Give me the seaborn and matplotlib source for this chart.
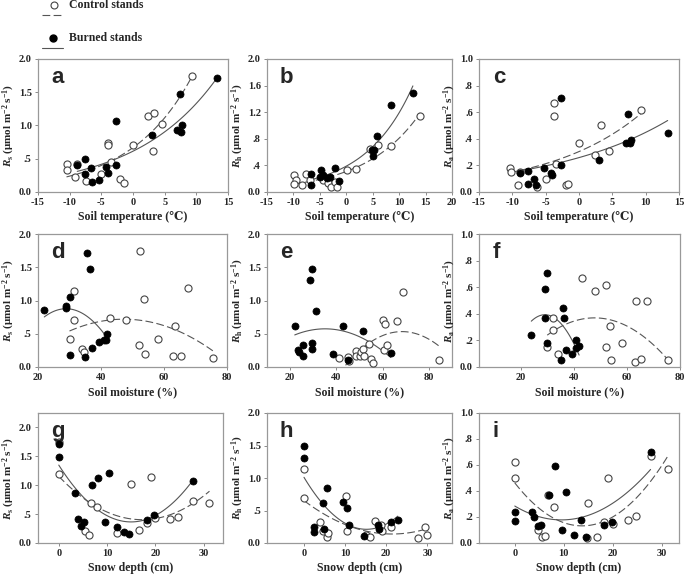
import matplotlib
matplotlib.use("Agg")
import matplotlib.pyplot as plt
import numpy as np
import seaborn as sns
from matplotlib.lines import Line2D
from matplotlib.ticker import FixedLocator, FuncFormatter

# soil temperature panels (a-c)
a_ctrl_x = [-10.5, -10.4, -9.2, -8.8, -7.5, -5.0, -4.0, -4.0, -3.5, -2.0, -1.5, 0.0, 2.4, 3.3, 3.2, 4.5, 9.3]
a_ctrl_y = [0.42, 0.33, 0.22, 0.42, 0.16, 0.27, 0.73, 0.70, 0.45, 0.19, 0.14, 0.70, 1.14, 1.19, 0.62, 1.03, 1.75]
a_burn_x = [-8.8, -7.6, -7.6, -6.7, -6.4, -5.3, -4.2, -4.0, -2.7, -2.7, 3.0, 7.0, 7.4, 7.6, 7.8, 13.3]
a_burn_y = [0.40, 0.49, 0.27, 0.36, 0.15, 0.18, 0.37, 0.29, 1.07, 0.40, 0.86, 0.93, 1.48, 0.90, 1.00, 1.72]

b_ctrl_x = [-9.8, -9.6, -9.9, -8.4, -7.6, -6.8, -4.5, -3.4, -2.9, -2.1, -1.7, 0.1, 1.9, 4.5, 6.0, 8.5, 14.0]
b_ctrl_y = [0.25, 0.18, 0.12, 0.10, 0.27, 0.18, 0.18, 0.13, 0.07, 0.15, 0.08, 0.33, 0.34, 0.65, 0.71, 0.69, 1.14]
b_burn_x = [-6.6, -6.7, -4.8, -4.9, -4.4, -3.7, -3.1, -2.1, -1.3, 4.8, 5.2, 5.1, 5.9, 8.4, 12.6]
b_burn_y = [0.27, 0.11, 0.33, 0.22, 0.26, 0.21, 0.23, 0.36, 0.16, 0.63, 0.63, 0.54, 0.84, 1.31, 1.49]

c_ctrl_x = [-10.4, -10.2, -9.2, -8.8, -6.3, -5.0, -3.8, -3.8, -3.5, -2.0, -1.6, 0.0, 2.4, 3.3, 4.5, 9.3]
c_ctrl_y = [0.18, 0.15, 0.05, 0.15, 0.04, 0.10, 0.67, 0.57, 0.21, 0.05, 0.06, 0.37, 0.28, 0.50, 0.31, 0.62]
c_burn_x = [-8.8, -7.6, -7.6, -6.7, -6.4, -5.3, -4.2, -4.0, -2.7, -2.7, 3.0, 7.0, 7.4, 7.6, 7.8, 13.3]
c_burn_y = [0.14, 0.16, 0.06, 0.10, 0.05, 0.18, 0.14, 0.13, 0.71, 0.20, 0.24, 0.37, 0.59, 0.37, 0.39, 0.44]

# soil moisture panels (d-f)
d_ctrl_x = [30.0, 31.5, 31.5, 34.0, 34.5, 43.0, 48.0, 52.0, 52.5, 53.5, 54.0, 58.0, 63.0, 63.5, 65.5, 67.5, 75.5]
d_ctrl_y = [0.42, 1.14, 0.70, 0.27, 0.22, 0.73, 0.70, 0.33, 1.75, 1.02, 0.19, 0.42, 0.16, 0.62, 0.16, 1.19, 0.14]
d_burn_x = [22.0, 29.0, 29.0, 30.0, 30.0, 35.0, 35.5, 36.5, 37.0, 39.5, 41.0, 41.5, 42.0]
d_burn_y = [0.86, 0.92, 0.89, 1.06, 0.18, 0.15, 1.72, 1.48, 0.29, 0.37, 0.41, 0.40, 0.49]

e_ctrl_x = [41.0, 45.0, 45.5, 48.5, 48.5, 50.0, 50.5, 51.5, 52.0, 54.0, 55.0, 56.0, 60.0, 60.5, 61.0, 62.0, 66.0, 69.0, 84.5]
e_ctrl_y = [0.13, 0.15, 0.09, 0.24, 0.17, 0.17, 0.22, 0.27, 0.17, 0.34, 0.12, 0.06, 0.71, 0.25, 0.64, 0.33, 0.69, 1.13, 0.10]
e_burn_x = [22.0, 23.5, 24.0, 25.5, 25.5, 28.5, 29.5, 29.5, 29.5, 31.0, 38.5, 43.0, 45.0, 51.5, 63.5]
e_burn_y = [0.62, 0.26, 0.22, 0.33, 0.16, 1.31, 1.48, 0.36, 0.27, 0.84, 0.20, 0.62, 0.11, 0.54, 0.21]

f_ctrl_x = [30.0, 32.0, 32.0, 34.0, 43.0, 48.0, 52.0, 52.0, 53.5, 54.0, 58.0, 63.0, 63.5, 65.5, 67.5, 75.5]
f_ctrl_y = [0.15, 0.37, 0.28, 0.10, 0.67, 0.57, 0.62, 0.15, 0.31, 0.05, 0.18, 0.04, 0.50, 0.06, 0.50, 0.05]
f_burn_x = [24.0, 29.0, 29.0, 30.0, 30.0, 35.0, 36.0, 36.5, 37.0, 39.5, 41.0, 41.0, 42.0]
f_burn_y = [0.24, 0.59, 0.37, 0.71, 0.18, 0.05, 0.44, 0.37, 0.13, 0.10, 0.20, 0.14, 0.16]

# snow depth panels (g-i)
g_ctrl_x = [0.0, 0.0, 5.5, 6.2, 6.7, 8.0, 12.0, 15.0, 16.7, 18.3, 19.0, 20.0, 23.0, 24.7, 27.7, 31.2]
g_ctrl_y = [1.75, 1.19, 0.20, 0.14, 0.70, 0.62, 0.17, 1.02, 0.22, 0.34, 1.14, 0.43, 0.42, 0.45, 0.73, 0.70]
g_burn_x = [0.0, 0.0, 3.3, 4.0, 4.5, 5.3, 6.8, 8.2, 9.6, 10.5, 12.0, 13.5, 14.5, 18.2, 19.8, 27.7]
g_burn_y = [1.72, 1.48, 0.86, 0.41, 0.29, 0.37, 1.00, 1.13, 0.37, 1.22, 0.28, 0.19, 0.16, 0.40, 0.49, 1.07]

h_ctrl_x = [0.0, 0.0, 3.8, 4.5, 5.5, 5.8, 10.2, 10.5, 15.0, 16.0, 17.2, 18.8, 19.0, 21.2, 27.8, 29.4, 29.8]
h_ctrl_y = [1.14, 0.69, 0.33, 0.18, 0.09, 0.15, 0.72, 0.18, 0.13, 0.10, 0.34, 0.27, 0.18, 0.25, 0.07, 0.24, 0.13]
h_burn_x = [0.0, 0.0, 2.5, 2.5, 4.5, 4.8, 5.5, 9.5, 10.5, 11.0, 14.5, 18.0, 18.2, 21.2, 22.8]
h_burn_y = [1.49, 1.31, 0.24, 0.17, 0.62, 0.21, 0.84, 0.63, 0.54, 0.27, 0.11, 0.27, 0.22, 0.33, 0.36]

i_ctrl_x = [0.0, 0.0, 4.8, 5.6, 6.2, 6.8, 8.0, 14.8, 15.0, 16.7, 18.3, 19.0, 20.0, 23.0, 24.7, 27.7, 31.2]
i_ctrl_y = [0.62, 0.50, 0.10, 0.05, 0.055, 0.37, 0.28, 0.04, 0.31, 0.05, 0.16, 0.50, 0.15, 0.18, 0.21, 0.67, 0.57]
i_burn_x = [0.0, 0.0, 3.5, 4.0, 4.7, 5.3, 7.0, 8.2, 9.7, 10.5, 12.0, 13.5, 14.5, 18.2, 19.8, 27.7]
i_burn_y = [0.24, 0.17, 0.24, 0.20, 0.13, 0.135, 0.37, 0.59, 0.10, 0.39, 0.06, 0.18, 0.045, 0.14, 0.16, 0.70]

letters = ["a", "b", "c", "d", "e", "f", "g", "h", "i"]
resp = ["s", "h", "a"]
xlabels = ["Soil temperature (\u2103)", "Soil moisture (%)", "Snow depth (cm)"]

sns.set_style("ticks")
serif = ["Liberation Serif", "DejaVu Serif"]
plt.rcParams["font.family"] = serif
plt.rcParams["mathtext.fontset"] = "custom"
plt.rcParams["mathtext.rm"] = "Liberation Serif:bold"
plt.rcParams["mathtext.it"] = "Liberation Serif:italic:bold"
plt.rcParams["mathtext.bf"] = "Liberation Serif:bold"

W, H = 685, 576
fig = plt.figure(figsize=(W / 100, H / 100), dpi=100)

cols = [[(38, 228), (267, 452), (479, 679)],
        [(38, 227), (267, 452), (479, 680)],
        [(38, 223), (267, 452), (479, 679)]]
rows = [(59, 192), (234, 367), (413, 543)]

xlims = [(-15, 15), (-15, 20), (-15, 15), (20, 80), (10, 90), (4.3, 80),
         (-4.3, 34), (-9, 36), (-7.3, 33.5)]
xticks = [range(-15, 16, 5), range(-15, 21, 5), range(-15, 16, 5),
          [20, 40, 60, 80], [20, 40, 60, 80], [20, 40, 60, 80],
          [0, 10, 20, 30], [0, 10, 20, 30], [0, 10, 20, 30]]
ylims = [(0, 2), (0, 2), (0, 1), (0, 2), (0, 2), (0, 1), (0, 2.25), (0, 2), (0, 1)]
yticks = [[0, .5, 1, 1.5, 2], [0, .4, .8, 1.2, 1.6, 2.0], [0, .2, .4, .6, .8, 1.0],
          [0, .5, 1, 1.5, 2], [0, .5, 1, 1.5, 2], [0, .2, .4, .6, .8, 1.0],
          [0, .5, 1, 1.5, 2], [0, .5, 1, 1.5, 2], [0, .2, .4, .6, .8, 1.0]]

data = [(a_ctrl_x, a_ctrl_y, a_burn_x, a_burn_y), (b_ctrl_x, b_ctrl_y, b_burn_x, b_burn_y),
        (c_ctrl_x, c_ctrl_y, c_burn_x, c_burn_y), (d_ctrl_x, d_ctrl_y, d_burn_x, d_burn_y),
        (e_ctrl_x, e_ctrl_y, e_burn_x, e_burn_y), (f_ctrl_x, f_ctrl_y, f_burn_x, f_burn_y),
        (g_ctrl_x, g_ctrl_y, g_burn_x, g_burn_y), (h_ctrl_x, h_ctrl_y, h_burn_x, h_burn_y),
        (i_ctrl_x, i_ctrl_y, i_burn_x, i_burn_y)]

line_col = "#555555"
dash_kw = dict(color=line_col, lw=0.8, dashes=(7, 3))
solid_kw = dict(color=line_col, lw=0.8)


def ytick_fmt(v, pos):
    s = f"{v:.1f}"
    return s[1:] if 0 < v < 1 else s


def exp_fit(x, y):
    # nonlinear least squares for y = a*exp(b*x), grid over b
    x, y = np.asarray(x), np.asarray(y)
    best = None
    for b in np.linspace(-0.5, 0.5, 4001):
        e = np.exp(b * x)
        a = (y * e).sum() / (e * e).sum()
        err = ((y - a * e) ** 2).sum()
        if best is None or err < best[0]:
            best = (err, a, b)
    xs = np.linspace(x.min(), x.max(), 100)
    return xs, best[1] * np.exp(best[2] * xs)


for k in range(9):
    r, c = divmod(k, 3)
    x0, x1 = cols[r][c]
    y0, y1 = rows[r]
    ax = fig.add_axes([x0 / W, 1 - y1 / H, (x1 - x0) / W, (y1 - y0) / H])
    cx, cy, bx, by = data[k]

    if r == 0:
        xs, ys = exp_fit(cx, cy)
        ax.plot(xs, ys, **dash_kw)
        xs, ys = exp_fit(bx, by)
        ax.plot(xs, ys, **solid_kw)
    else:
        sns.regplot(x=np.array(cx), y=np.array(cy), order=2, ci=None, scatter=False,
                    truncate=True, ax=ax, line_kws=dash_kw)
        sns.regplot(x=np.array(bx), y=np.array(by), order=2, ci=None, scatter=False,
                    truncate=True, ax=ax, line_kws=solid_kw)

    sns.scatterplot(x=cx, y=cy, ax=ax, marker="o", s=26, facecolor="white",
                    edgecolor="#444444", linewidth=0.8, zorder=3)
    sns.scatterplot(x=bx, y=by, ax=ax, marker="o", s=26, color="black",
                    edgecolor="black", linewidth=0.5, zorder=4)

    ax.set_xlim(*xlims[k])
    ax.set_ylim(*ylims[k])
    ax.xaxis.set_major_locator(FixedLocator(list(xticks[k])))
    ax.xaxis.set_major_formatter(FuncFormatter(lambda v, p: f"{int(round(v))}"))
    ax.yaxis.set_major_locator(FixedLocator(yticks[k]))
    ax.yaxis.set_major_formatter(FuncFormatter(ytick_fmt))
    ax.tick_params(labelsize=7.5, length=2.5, width=0.6, color="#777777", pad=2)
    for lab in ax.get_xticklabels() + ax.get_yticklabels():
        lab.set_fontweight("bold")
    for sp in ax.spines.values():
        sp.set_color("#999999")
        sp.set_linewidth(0.9)

    ax.set_xlabel(xlabels[r], fontsize=8.5, fontweight="bold", labelpad=3)
    ax.set_ylabel(r"$R_{\mathrm{" + resp[c] + r"}}$ (" + "\u03bc" + r"mol m$^{-2}$ s$^{-1}$)",
                  fontsize=8, fontweight="bold", labelpad=1)
    ax.text(0.07, 0.94, letters[k], transform=ax.transAxes, ha="left", va="top",
            fontsize=16, fontweight="bold", family=["Liberation Sans", "DejaVu Sans"])

# figure-level legend in the top-left corner
fig.add_artist(Line2D([54 / W], [1 - 5 / H], marker="o", ms=5, mfc="white", mec="#444444",
                      mew=0.8, ls="none"))
fig.add_artist(Line2D([42 / W, 63 / W], [1 - 15 / H, 1 - 15 / H], **dash_kw))
fig.text(69 / W, 1 - 5 / H, "Control stands", fontsize=8.5, fontweight="bold", va="center")
fig.add_artist(Line2D([53 / W], [1 - 38 / H], marker="o", ms=5, mfc="black", mec="black",
                      ls="none"))
fig.add_artist(Line2D([42 / W, 63 / W], [1 - 48 / H, 1 - 48 / H], **solid_kw))
fig.text(69 / W, 1 - 38 / H, "Burned stands", fontsize=8.5, fontweight="bold", va="center")

fig.savefig("out.png", dpi=100)
